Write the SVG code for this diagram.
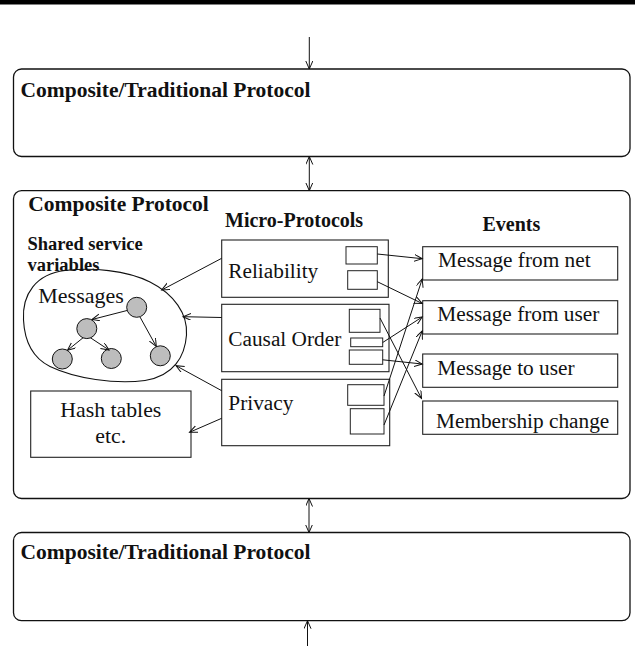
<svg xmlns="http://www.w3.org/2000/svg" width="635" height="646" viewBox="0 0 635 646">
  <style>
    .frame { fill: #fff; stroke: #111; stroke-width: 1.3; }
    .box { fill: #fff; stroke: #222; stroke-width: 1.1; }
    .slot { fill: #fff; stroke: #222; stroke-width: 1; }
    .node { fill: #bdbdbd; stroke: #111; stroke-width: 1; }
    .blob { fill: none; stroke: #111; stroke-width: 1.1; }
    .title { font-family: "Liberation Serif", "Times New Roman", serif; font-weight: bold; font-size: 21.5px; fill: #111; }
    .head { font-family: "Liberation Serif", "Times New Roman", serif; font-weight: bold; font-size: 20px; fill: #111; }
    .small { font-size: 18.5px; }
    .label { font-family: "Liberation Serif", "Times New Roman", serif; font-size: 21.3px; fill: #111; }
    .conn line, .conn path { stroke: #111; stroke-width: 1; fill: none; }
    .arr { marker-end: url(#head); }
    .both { marker-start: url(#head); marker-end: url(#head); }
  </style>
  <defs>
    <marker id="head" markerUnits="userSpaceOnUse" markerWidth="10" markerHeight="8" refX="8" refY="3.5" orient="auto-start-reverse">
      <path d="M0,0 L8,3.5 L0,7" fill="none" stroke="#111" stroke-width="1"/>
    </marker>
  </defs>

  <!-- heavy rule across the top -->
  <rect x="0" y="0" width="635" height="4.5" fill="#000"/>

  <g id="upper-protocol">
    <rect class="frame" x="13.5" y="69" width="616.5" height="87.5" rx="8"/>
    <text class="title" x="20.5" y="96.5">Composite/Traditional Protocol</text>
  </g>

  <g id="composite-protocol">
    <rect class="frame" x="13.5" y="190.7" width="616.5" height="307.8" rx="8"/>
    <text class="title" x="28.3" y="211">Composite Protocol</text>
    <text class="head" x="225" y="226.5">Micro-Protocols</text>
    <text class="head" x="482.5" y="231">Events</text>
  </g>

  <g id="lower-protocol">
    <rect class="frame" x="13.5" y="532.5" width="616.5" height="88.2" rx="8"/>
    <text class="title" x="20.5" y="559">Composite/Traditional Protocol</text>
  </g>

  <g id="shared-variables">
    <text class="head small" x="27.5" y="250">Shared service</text>
    <text class="head small" x="27.5" y="270.5">variables</text>
    <path class="blob" d="M23.5,320 C22,294 36,274 65,270.5 C92,267.5 126,270 150,282 C174,294 188,314 186.5,335 C185,356 174,376 145,380.5 C115,384.5 75,378.5 50,366.5 C31,357 24.5,340 23.5,320 Z"/>
    <text class="label" style="font-size:22px" x="38.3" y="303">Messages</text>
    <circle class="node" cx="136.7" cy="307.3" r="10"/>
    <circle class="node" cx="86.8" cy="328.6" r="10"/>
    <circle class="node" cx="62.3" cy="359" r="10"/>
    <circle class="node" cx="111.3" cy="358.5" r="10"/>
    <circle class="node" cx="160.3" cy="355.8" r="10"/>
    <g class="conn">
      <line class="arr" x1="127" y1="310.5" x2="92" y2="319.5"/>
      <line class="arr" x1="140" y1="317" x2="156.3" y2="346.5"/>
      <line class="arr" x1="83" y1="337.8" x2="67.5" y2="350.3"/>
      <line class="arr" x1="90.5" y1="337.8" x2="109" y2="350"/>
    </g>
  </g>

  <g id="hash-tables">
    <rect class="box" x="30.7" y="391" width="160.3" height="66.3"/>
    <text class="label" style="font-size:21.8px" x="110.8" y="417.3" text-anchor="middle">Hash tables</text>
    <text class="label" style="font-size:21.8px" x="110.8" y="443.3" text-anchor="middle">etc.</text>
  </g>

  <g id="reliability">
    <rect class="box" x="221.7" y="240" width="166.6" height="57.3"/>
    <text class="label" x="228.3" y="278.3">Reliability</text>
    <rect class="slot" x="346" y="246.7" width="31.3" height="17.3"/>
    <rect class="slot" x="347.7" y="270.7" width="29.6" height="18.6"/>
  </g>

  <g id="causal-order">
    <rect class="box" x="221.7" y="304.3" width="167.3" height="67.4"/>
    <text class="label" x="228.3" y="345.7">Causal Order</text>
    <rect class="slot" x="349.3" y="309.3" width="30.7" height="23"/>
    <rect class="slot" x="350.7" y="338" width="32" height="8.7"/>
    <rect class="slot" x="349.3" y="350" width="33.4" height="14.3"/>
  </g>

  <g id="privacy">
    <rect class="box" x="221.7" y="379.3" width="168" height="66.4"/>
    <text class="label" x="228.3" y="410">Privacy</text>
    <rect class="slot" x="347.7" y="384.7" width="36.3" height="20.6"/>
    <rect class="slot" x="350.3" y="408.7" width="33.7" height="25.3"/>
  </g>

  <g id="ev-net">
    <rect class="box" x="422.7" y="246.7" width="195" height="33.3"/>
    <text class="label" x="438" y="267.3">Message from net</text>
  </g>
  <g id="ev-from-user">
    <rect class="box" x="422.7" y="300.7" width="195" height="33.3"/>
    <text class="label" x="437.3" y="320.7">Message from user</text>
  </g>
  <g id="ev-to-user">
    <rect class="box" x="422.7" y="354" width="195" height="33.3"/>
    <text class="label" x="437.3" y="374.7">Message to user</text>
  </g>
  <g id="ev-membership">
    <rect class="box" x="422.7" y="401" width="195" height="33.3"/>
    <text class="label" x="436" y="428.3">Membership change</text>
  </g>

  <g id="connectors" class="conn">
    <!-- stack links -->
    <line class="arr" x1="309.3" y1="37" x2="309.3" y2="69"/>
    <line class="both" x1="309.3" y1="156.5" x2="309.3" y2="190.7"/>
    <line class="both" x1="309" y1="498.5" x2="309" y2="532.5"/>
    <line class="arr" x1="307.5" y1="646" x2="307.5" y2="620.7"/>
    <!-- micro-protocols to shared state -->
    <line class="arr" x1="221.7" y1="258.3" x2="161.7" y2="290"/>
    <line class="arr" x1="221.7" y1="317.5" x2="183" y2="316.7"/>
    <line class="arr" x1="221.7" y1="390.7" x2="176" y2="365.7"/>
    <line class="arr" x1="221.7" y1="418.3" x2="189.5" y2="432.3"/>
    <!-- handlers bound to events -->
    <line class="arr" x1="377.3" y1="254" x2="422.2" y2="258.7"/>
    <line class="arr" x1="377.3" y1="281.7" x2="422.2" y2="303.5"/>
    <line class="arr" x1="380" y1="318" x2="421.5" y2="398.5"/>
    <line class="arr" x1="382.7" y1="342.5" x2="422.2" y2="317"/>
    <line class="arr" x1="382.7" y1="359.8" x2="422.2" y2="364"/>
    <line class="arr" x1="384" y1="396" x2="422.2" y2="279"/>
    <line class="arr" x1="384" y1="425" x2="422.2" y2="331"/>
  </g>
</svg>
